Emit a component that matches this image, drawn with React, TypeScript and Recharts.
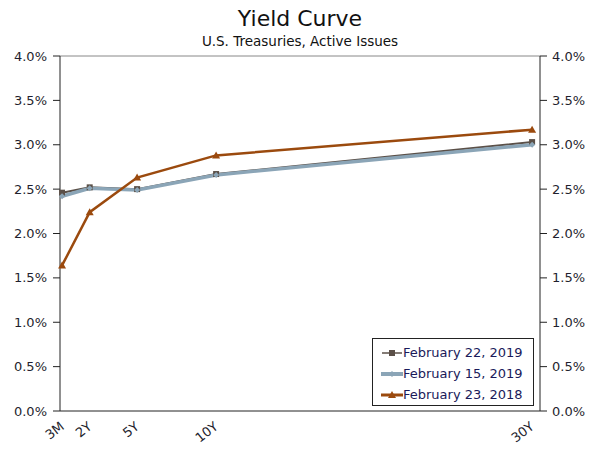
import { LineChart, Line, XAxis, YAxis, ReferenceLine } from "recharts";

const maturities = [0.25, 2, 5, 10, 30];
const maturityLabels = ["3M", "2Y", "5Y", "10Y", "30Y"];
const feb22_2019 = [2.46, 2.52, 2.5, 2.67, 3.03];
const feb15_2019 = [2.42, 2.51, 2.49, 2.66, 3.0];
const feb23_2018 = [1.64, 2.24, 2.63, 2.88, 3.17];
const yTicks = [0, 0.5, 1, 1.5, 2, 2.5, 3, 3.5, 4];

const seriesNames = ["February 22, 2019", "February 15, 2019", "February 23, 2018"];

const data = maturities.map((m, i) => ({
  m,
  a: feb22_2019[i],
  b: feb15_2019[i],
  c: feb23_2018[i],
}));

const font = "DejaVu Sans, Verdana, sans-serif";

const XTick = (props: any) => {
  const { x, y, payload } = props;
  const idx = maturities.indexOf(payload.value);
  const tx = x + 3;
  const ty = y + 9;
  return (
    <text
      x={tx}
      y={ty}
      transform={`rotate(-38, ${tx}, ${ty})`}
      textAnchor="end"
      fontSize={13}
      fill="#1f1f2e"
      fontFamily={font}
    >
      {maturityLabels[idx]}
    </text>
  );
};

const Square = (props: any) => {
  const { cx, cy } = props;
  return <rect x={cx - 3} y={cy - 3} width={6} height={6} fill="#5b5048" />;
};

const Triangle = (props: any) => {
  const { cx, cy } = props;
  return <path d={`M${cx},${cy - 4} L${cx + 4},${cy + 3} L${cx - 4},${cy + 3} Z`} fill="#9b4a0e" />;
};

const Diamond = (props: any) => {
  const { cx, cy } = props;
  return <path d={`M${cx},${cy - 3} L${cx + 3},${cy} L${cx},${cy + 3} L${cx - 3},${cy} Z`} fill="#8ba5b7" />;
};

const LegendBox = () => (
  <div
    style={{
      position: "absolute",
      left: 372,
      top: 338,
      border: "1px solid #222",
      background: "#fff",
      width: 162,
      height: 68,
      boxSizing: "border-box",
      padding: "3px 0 0 8px",
      fontFamily: font,
      fontSize: 13,
      color: "#1a1a5a",
    }}
  >
    <div style={{ display: "flex", alignItems: "center", height: 21 }}>
      <svg width={22} height={10}>
        <line x1={1} y1={5} x2={21} y2={5} stroke="#5b5048" strokeWidth={1.5} />
        <rect x={8} y={2} width={6} height={6} fill="#5b5048" />
      </svg>
      <span>{seriesNames[0]}</span>
    </div>
    <div style={{ display: "flex", alignItems: "center", height: 21 }}>
      <svg width={22} height={10}>
        <line x1={0} y1={5} x2={22} y2={5} stroke="#8ba5b7" strokeWidth={4} />
        <path d="M11,2 L14,5 L11,8 L8,5 Z" fill="#8ba5b7" />
      </svg>
      <span>{seriesNames[1]}</span>
    </div>
    <div style={{ display: "flex", alignItems: "center", height: 21 }}>
      <svg width={22} height={10}>
        <line x1={0} y1={5} x2={22} y2={5} stroke="#9b4a0e" strokeWidth={3} />
        <path d="M11,1 L15,8 L7,8 Z" fill="#9b4a0e" />
      </svg>
      <span>{seriesNames[2]}</span>
    </div>
  </div>
);

const pct = (v: number) => `${v.toFixed(1)}%`;
const tickStyle = { fontSize: 13, fill: "#1f1f2e", fontFamily: font };

export default function App() {
  return (
    <div style={{ position: "absolute", left: 0, top: 0, width: 600, height: 450, background: "#fff" }}>
      <div
        style={{
          position: "absolute",
          left: 0,
          top: 6,
          width: 600,
          textAlign: "center",
          fontFamily: font,
          fontSize: 22,
          color: "#111",
        }}
      >
        Yield Curve
      </div>
      <div
        style={{
          position: "absolute",
          left: 0,
          top: 33,
          width: 600,
          textAlign: "center",
          fontFamily: font,
          fontSize: 13.5,
          color: "#111",
        }}
      >
        U.S. Treasuries, Active Issues
      </div>
      <LineChart
        width={600}
        height={450}
        data={data}
        margin={{ top: 56, right: 0, bottom: 0, left: 0 }}
      >
        <XAxis
          dataKey="m"
          type="number"
          domain={[0.12, 30.5]}
          ticks={maturities}
          tick={<XTick />}
          tickLine={false}
          stroke="#222"
          height={39}
          interval={0}
        />
        <YAxis
          yAxisId="left"
          domain={[0, 4]}
          ticks={yTicks}
          tickFormatter={pct}
          width={60}
          tickSize={7}
          tickMargin={6}
          stroke="#222"
          tick={tickStyle}
        />
        <YAxis
          yAxisId="right"
          orientation="right"
          domain={[0, 4]}
          ticks={yTicks}
          tickFormatter={pct}
          width={60}
          tickSize={7}
          tickMargin={5}
          stroke="#222"
          tick={tickStyle}
        />
        <ReferenceLine yAxisId="left" y={4} stroke="#888" />
        <Line
          yAxisId="right"
          dataKey="a"
          stroke="none"
          dot={false}
          legendType="none"
          isAnimationActive={false}
        />
        <Line
          yAxisId="left"
          dataKey="a"
          name={seriesNames[0]}
          stroke="#5b5048"
          strokeWidth={2}
          dot={<Square />}
          isAnimationActive={false}
        />
        <Line
          yAxisId="left"
          dataKey="b"
          name={seriesNames[1]}
          stroke="#8ba5b7"
          strokeWidth={3.5}
          dot={<Diamond />}
          isAnimationActive={false}
        />
        <Line
          yAxisId="left"
          dataKey="c"
          name={seriesNames[2]}
          stroke="#9b4a0e"
          strokeWidth={2.5}
          dot={<Triangle />}
          isAnimationActive={false}
        />
      </LineChart>
      <LegendBox />
    </div>
  );
}
